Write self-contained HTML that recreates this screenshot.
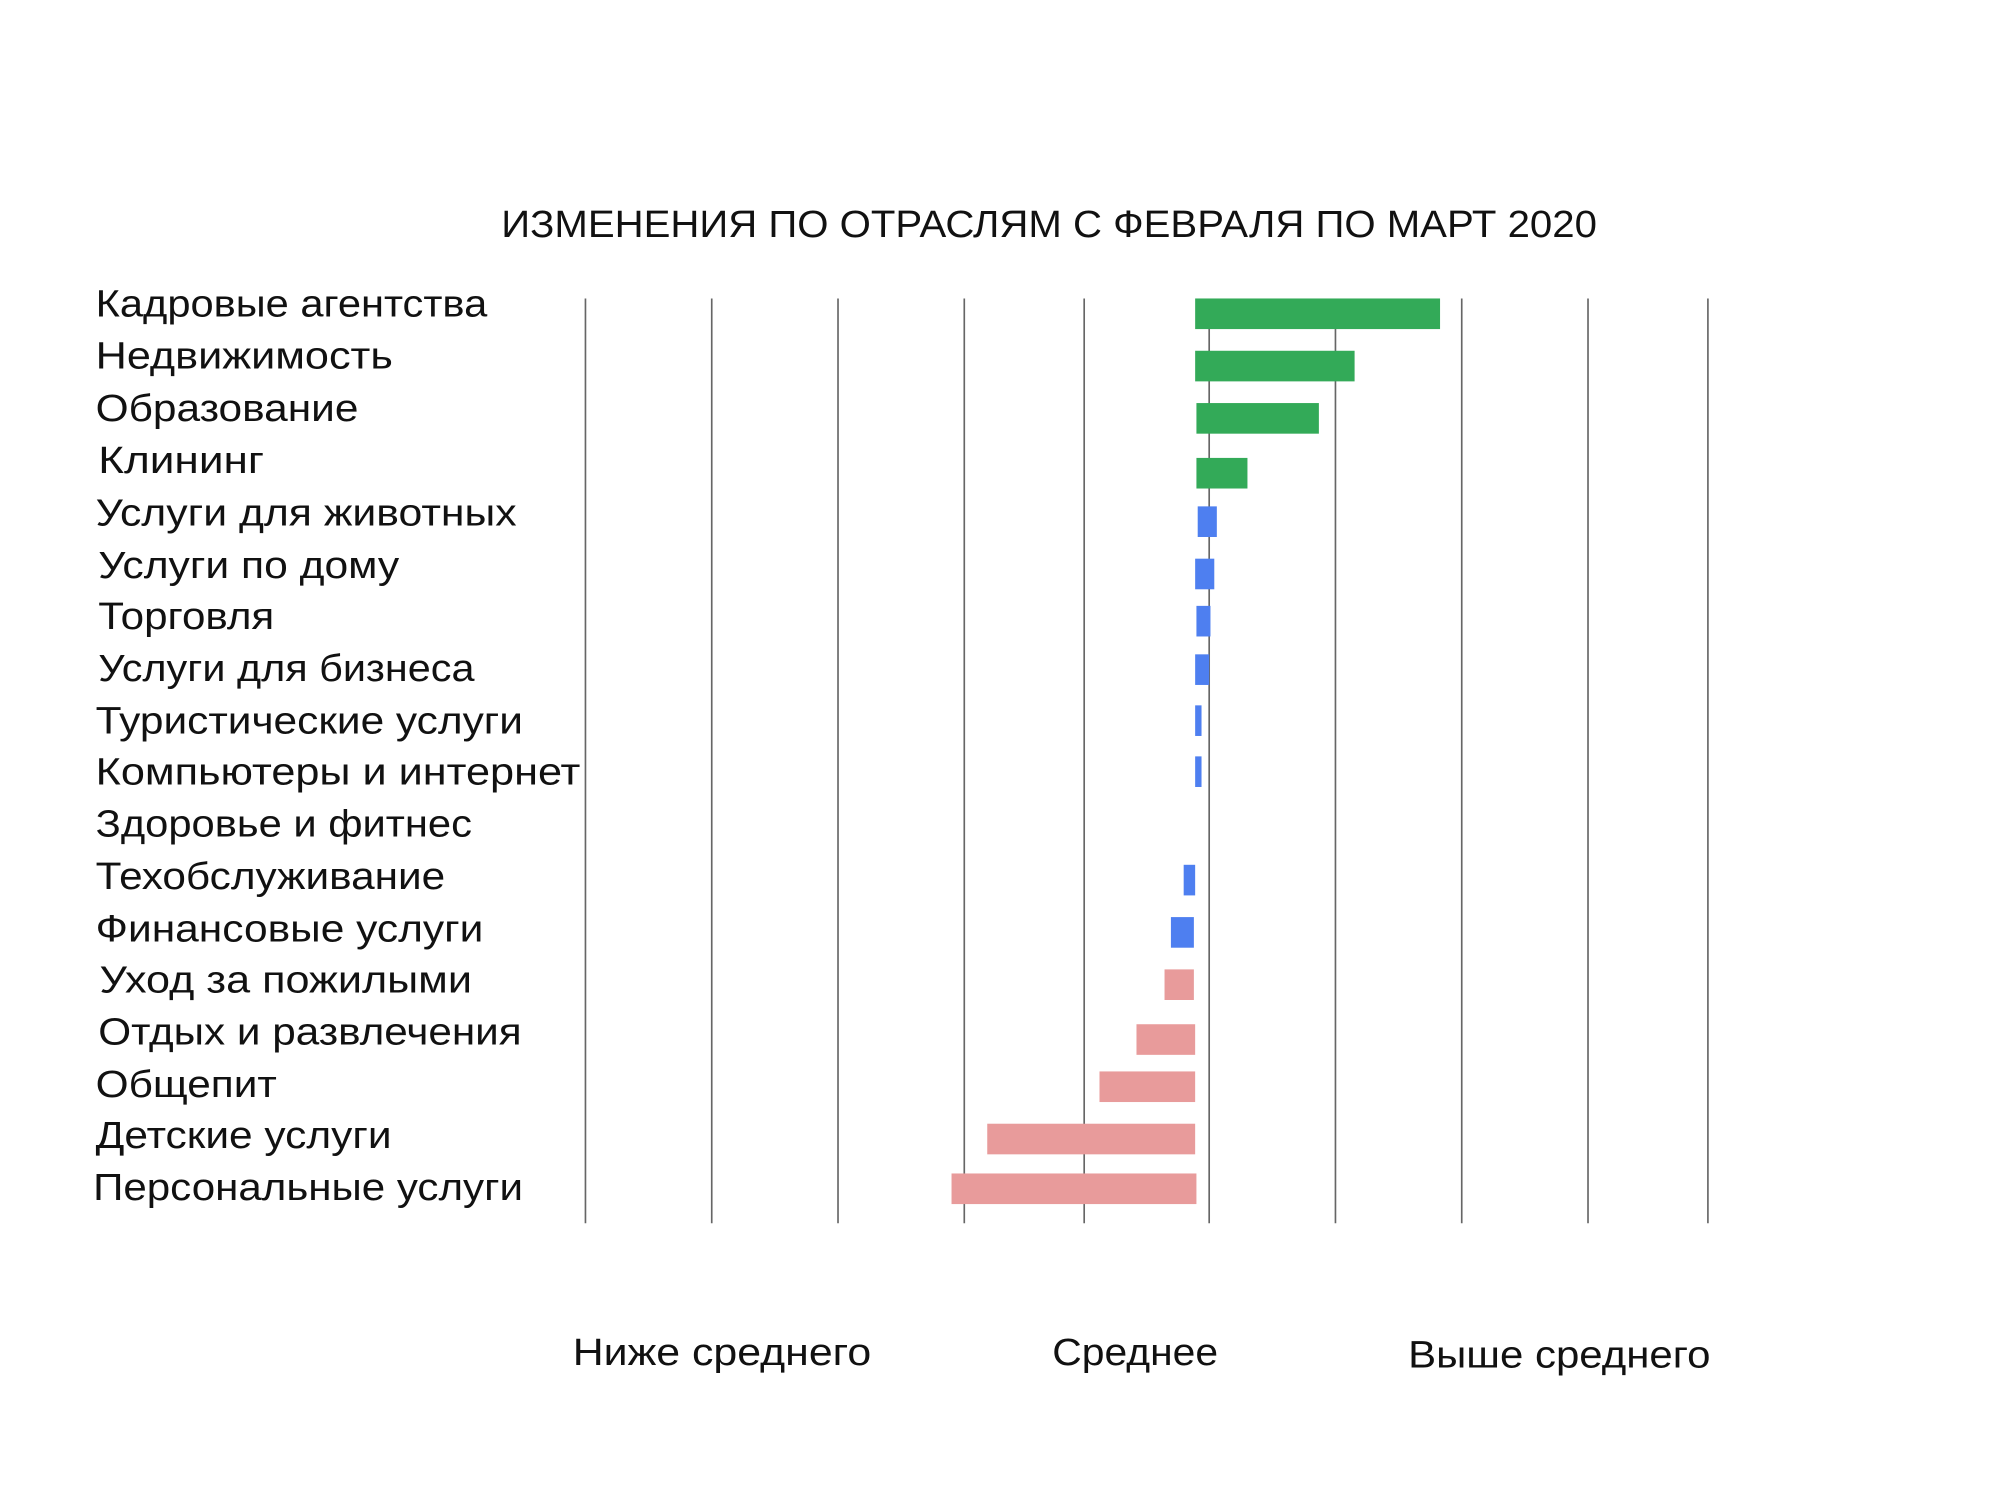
<!DOCTYPE html>
<html><head><meta charset="utf-8"><style>html,body{margin:0;padding:0;background:#fff}svg{display:block}</style></head>
<body>
<svg width="2000" height="1500" viewBox="0 0 1568 1176" preserveAspectRatio="none" xmlns="http://www.w3.org/2000/svg" font-family="Liberation Sans, DejaVu Sans, sans-serif" fill="#111">
<rect width="1568" height="1176" fill="#fff"/>
<text x="393" y="186" font-size="30" textLength="859" lengthAdjust="spacingAndGlyphs">ИЗМЕНЕНИЯ ПО ОТРАСЛЯМ С ФЕВРАЛЯ ПО МАРТ 2020</text>
<g stroke="#666" stroke-width="1.3">
<line x1="459" y1="234" x2="459" y2="959"/><line x1="558" y1="234" x2="558" y2="959"/><line x1="657" y1="234" x2="657" y2="959"/><line x1="756" y1="234" x2="756" y2="959"/><line x1="850" y1="234" x2="850" y2="959"/><line x1="948" y1="234" x2="948" y2="959"/><line x1="1047" y1="234" x2="1047" y2="959"/><line x1="1146" y1="234" x2="1146" y2="959"/><line x1="1245" y1="234" x2="1245" y2="959"/><line x1="1339" y1="234" x2="1339" y2="959"/>
</g>
<g fill="#33aa58">
<rect x="937" y="234" width="192" height="24"/><rect x="937" y="275" width="125" height="24"/><rect x="938" y="316" width="96" height="24"/><rect x="938" y="359" width="40" height="24"/>
</g>
<g fill="#4e7ff0">
<rect x="939" y="397" width="15" height="24"/><rect x="937" y="438" width="15" height="24"/><rect x="938" y="475" width="11" height="24"/><rect x="937" y="513" width="11" height="24"/><rect x="937" y="553" width="5" height="24"/><rect x="937" y="593" width="5" height="24"/><rect x="928" y="678" width="9" height="24"/><rect x="918" y="719" width="18" height="24"/>
</g>
<g fill="#e89b9b">
<rect x="913" y="760" width="23" height="24"/><rect x="891" y="803" width="46" height="24"/><rect x="862" y="840" width="75" height="24"/><rect x="774" y="881" width="163" height="24"/><rect x="746" y="920" width="192" height="24"/>
</g>
<g font-size="30">
<text x="75" y="248" textLength="307" lengthAdjust="spacingAndGlyphs">Кадровые агентства</text>
<text x="75" y="289" textLength="233" lengthAdjust="spacingAndGlyphs">Недвижимость</text>
<text x="75" y="330" textLength="206" lengthAdjust="spacingAndGlyphs">Образование</text>
<text x="77" y="371" textLength="130" lengthAdjust="spacingAndGlyphs">Клининг</text>
<text x="75" y="412" textLength="330" lengthAdjust="spacingAndGlyphs">Услуги для животных</text>
<text x="77" y="453" textLength="236" lengthAdjust="spacingAndGlyphs">Услуги по дому</text>
<text x="77" y="493" textLength="138" lengthAdjust="spacingAndGlyphs">Торговля</text>
<text x="77" y="534" textLength="295" lengthAdjust="spacingAndGlyphs">Услуги для бизнеса</text>
<text x="75" y="575" textLength="335" lengthAdjust="spacingAndGlyphs">Туристические услуги</text>
<text x="75" y="615" textLength="380" lengthAdjust="spacingAndGlyphs">Компьютеры и интернет</text>
<text x="75" y="656" textLength="295" lengthAdjust="spacingAndGlyphs">Здоровье и фитнес</text>
<text x="75" y="697" textLength="274" lengthAdjust="spacingAndGlyphs">Техобслуживание</text>
<text x="75" y="738" textLength="304" lengthAdjust="spacingAndGlyphs">Финансовые услуги</text>
<text x="78" y="778" textLength="292" lengthAdjust="spacingAndGlyphs">Уход за пожилыми</text>
<text x="77" y="819" textLength="332" lengthAdjust="spacingAndGlyphs">Отдых и развлечения</text>
<text x="75" y="860" textLength="142" lengthAdjust="spacingAndGlyphs">Общепит</text>
<text x="75" y="900" textLength="232" lengthAdjust="spacingAndGlyphs">Детские услуги</text>
<text x="73" y="941" textLength="337" lengthAdjust="spacingAndGlyphs">Персональные услуги</text>
<text x="449" y="1070" textLength="234" lengthAdjust="spacingAndGlyphs">Ниже среднего</text>
<text x="825" y="1070" textLength="130" lengthAdjust="spacingAndGlyphs">Среднее</text>
<text x="1104" y="1072" textLength="237" lengthAdjust="spacingAndGlyphs">Выше среднего</text>
</g>
</svg>
</body></html>
